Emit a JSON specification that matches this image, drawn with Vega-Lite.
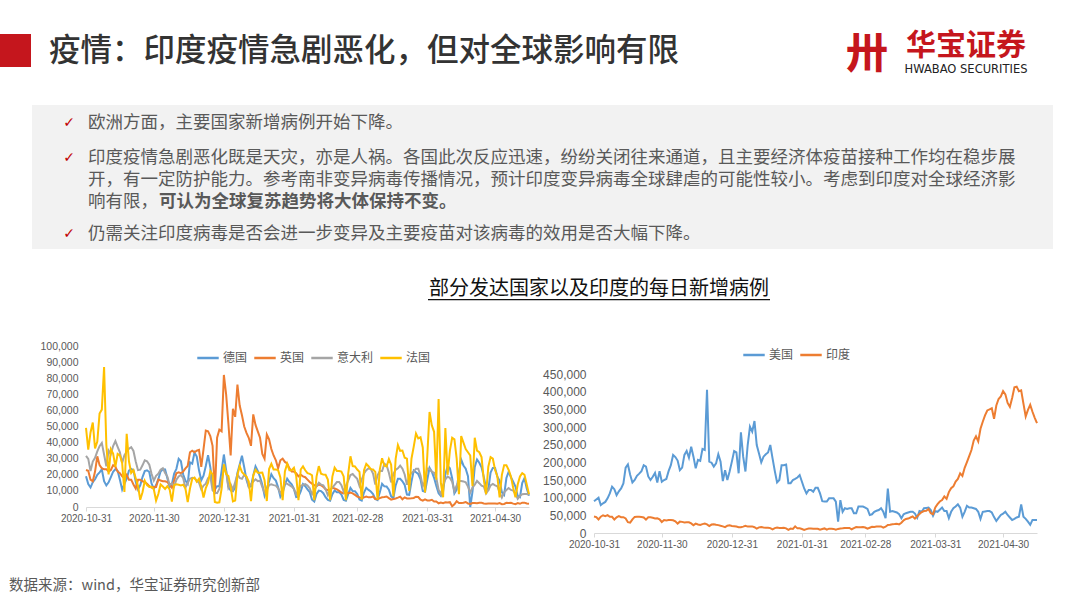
{
"$schema":"https://vega.github.io/schema/vega-lite/v6.json",
"width":1080,"height":608,"padding":0,"autosize":{"type":"none"},
"background":"#ffffff",
"config":{"view":{"stroke":null},"font":"Noto Sans CJK SC"},
"datasets":{
"eu":[
{"date":"2020-10-31","德国":19100,"英国":23000,"意大利":31800,"法国":49200},
{"date":"2020-11-01","德国":14200,"英国":22500,"意大利":29900,"法国":35600},
{"date":"2020-11-02","德国":12100,"英国":17000,"意大利":22300,"法国":46300},
{"date":"2020-11-03","德国":15400,"英国":16000,"意大利":28200,"法国":52500},
{"date":"2020-11-04","德国":17200,"英国":22000,"意大利":30600,"法国":36400},
{"date":"2020-11-05","德国":20000,"英国":31500,"意大利":34500,"法国":40600},
{"date":"2020-11-06","德国":21500,"英国":26000,"意大利":37800,"法国":58000},
{"date":"2020-11-07","德国":23400,"英国":24000,"意大利":39800,"法国":60500},
{"date":"2020-11-08","德国":16000,"英国":23500,"意大利":32600,"法国":86900},
{"date":"2020-11-09","德国":13400,"英国":23500,"意大利":25300,"法国":38600},
{"date":"2020-11-10","德国":15300,"英国":22000,"意大利":35100,"法国":20200},
{"date":"2020-11-11","德国":18500,"英国":23000,"意大利":32900,"法国":35900},
{"date":"2020-11-12","德国":21900,"英国":26000,"意大利":37900,"法国":33200},
{"date":"2020-11-13","德国":23500,"英国":25000,"意大利":40900,"法国":25000},
{"date":"2020-11-14","德国":22500,"英国":22000,"意大利":37300,"法国":33000},
{"date":"2020-11-15","德国":16900,"英国":21000,"意大利":33900,"法国":32100},
{"date":"2020-11-16","德国":10800,"英国":19000,"意大利":27400,"法国":27200},
{"date":"2020-11-17","德国":14400,"英国":18000,"意大利":32200,"法国":9400},
{"date":"2020-11-18","德国":17600,"英国":20000,"意大利":34300,"法国":45500},
{"date":"2020-11-19","德国":22600,"英国":17000,"意大利":36200,"法国":28400},
{"date":"2020-11-20","德国":23600,"英国":17000,"意大利":37200,"法国":21200},
{"date":"2020-11-21","德国":22900,"英国":14000,"意大利":34800,"法国":22900},
{"date":"2020-11-22","德国":15700,"英国":11500,"意大利":28300,"法国":17900},
{"date":"2020-11-23","德国":10900,"英国":17000,"意大利":22900,"法国":13200},
{"date":"2020-11-24","德国":13500,"英国":17000,"意大利":23200,"法国":4500},
{"date":"2020-11-25","德国":18600,"英国":16000,"意大利":25900,"法国":9200},
{"date":"2020-11-26","德国":22300,"英国":15500,"意大利":29000,"法国":16300},
{"date":"2020-11-27","德国":22800,"英国":14500,"意大利":28400,"法国":13600},
{"date":"2020-11-28","德国":21700,"英国":13000,"意大利":26300,"法国":12500},
{"date":"2020-11-29","德国":14600,"英国":12000,"意大利":20600,"法国":12600},
{"date":"2020-11-30","德国":11200,"英国":12500,"意大利":16400,"法国":11000},
{"date":"2020-12-01","德国":13600,"英国":12500,"意大利":19400,"法国":4000},
{"date":"2020-12-02","德国":17300,"英国":17000,"意大利":20700,"法国":8100},
{"date":"2020-12-03","德国":22000,"英国":16500,"意大利":23200,"法国":14000},
{"date":"2020-12-04","德国":23400,"英国":16000,"意大利":24100,"法国":12700},
{"date":"2020-12-05","德国":23300,"英国":16000,"意大利":21100,"法国":11200},
{"date":"2020-12-06","德国":17800,"英国":15500,"意大利":18900,"法国":12900},
{"date":"2020-12-07","德国":12300,"英国":14000,"意大利":13700,"法国":11000},
{"date":"2020-12-08","德国":14100,"英国":12000,"意大利":14800,"法国":3400},
{"date":"2020-12-09","德国":20800,"英国":16500,"意大利":12800,"法国":13700},
{"date":"2020-12-10","德国":23700,"英国":21000,"意大利":16900,"法国":14100},
{"date":"2020-12-11","德国":29900,"英国":21500,"意大利":19000,"法国":13800},
{"date":"2020-12-12","德国":28400,"英国":21000,"意大利":19900,"法国":13400},
{"date":"2020-12-13","德国":20200,"英国":22000,"意大利":17900,"法国":13900},
{"date":"2020-12-14","德国":16400,"英国":24000,"意大利":12000,"法国":11500},
{"date":"2020-12-15","德国":14400,"英国":25500,"意大利":14800,"法国":3100},
{"date":"2020-12-16","德国":27700,"英国":34000,"意大利":17600,"法国":11500},
{"date":"2020-12-17","德国":26900,"英国":35000,"意大利":18200,"法国":17600},
{"date":"2020-12-18","德国":33800,"英国":34000,"意大利":17900,"法国":18300},
{"date":"2020-12-19","德国":31300,"英国":35000,"意大利":16300,"法国":15700},
{"date":"2020-12-20","德国":22800,"英国":35500,"意大利":15100,"法国":17600},
{"date":"2020-12-21","德国":16600,"英国":25000,"意大利":10900,"法国":12800},
{"date":"2020-12-22","德国":19500,"英国":36000,"意大利":13300,"法国":5900},
{"date":"2020-12-23","德国":25500,"英国":47500,"意大利":14500,"法国":11800},
{"date":"2020-12-24","德国":32200,"英国":47000,"意大利":18000,"法国":15100},
{"date":"2020-12-25","德国":24700,"英国":44000,"意大利":19000,"法国":22200},
{"date":"2020-12-26","德国":14500,"英国":38000,"意大利":10400,"法国":20300},
{"date":"2020-12-27","德国":10900,"英国":8000,"意大利":8900,"法国":3100},
{"date":"2020-12-28","德国":12900,"英国":43000,"意大利":8600,"法国":2600},
{"date":"2020-12-29","德国":12900,"英国":48000,"意大利":11200,"法国":2900},
{"date":"2020-12-30","德国":22500,"英国":47000,"意大利":16200,"法国":11400},
{"date":"2020-12-31","德国":32600,"英国":82000,"意大利":23500,"法国":26500},
{"date":"2021-01-01","德国":22900,"英国":70000,"意大利":22200,"法国":20500},
{"date":"2021-01-02","德国":12700,"英国":52000,"意大利":11800,"法国":19300},
{"date":"2021-01-03","德国":10300,"英国":32000,"意大利":14200,"法国":12500},
{"date":"2021-01-04","德国":9800,"英国":61000,"意大利":10800,"法国":3500},
{"date":"2021-01-05","德国":12000,"英国":56000,"意大利":15400,"法国":4000},
{"date":"2021-01-06","德国":21200,"英国":76000,"意大利":20300,"法国":19800},
{"date":"2021-01-07","德国":26400,"英国":63000,"意大利":18000,"法国":25400},
{"date":"2021-01-08","德国":31800,"英国":57000,"意大利":17500,"法国":21700},
{"date":"2021-01-09","德国":24700,"英国":50000,"意大利":19900,"法国":20200},
{"date":"2021-01-10","德国":16900,"英国":46000,"意大利":18600,"法国":18900},
{"date":"2021-01-11","德国":12500,"英国":43000,"意大利":12500,"法国":15900},
{"date":"2021-01-12","德国":12800,"英国":38000,"意大利":14200,"法国":3600},
{"date":"2021-01-13","德国":19600,"英国":57500,"意大利":15800,"法国":19500},
{"date":"2021-01-14","德国":25200,"英国":51000,"意大利":17200,"法国":23100},
{"date":"2021-01-15","德国":22400,"英国":47000,"意大利":16100,"法国":21300},
{"date":"2021-01-16","德国":18700,"英国":43000,"意大利":16300,"法国":21300},
{"date":"2021-01-17","德国":13900,"英国":33000,"意大利":12500,"法国":21400},
{"date":"2021-01-18","德国":7100,"英国":30000,"意大利":8800,"法国":16600},
{"date":"2021-01-19","德国":11400,"英国":45000,"意大利":10500,"法国":3700},
{"date":"2021-01-20","德国":15900,"英国":42000,"意大利":13600,"法国":23600},
{"date":"2021-01-21","德国":20400,"英国":36000,"意大利":14100,"法国":26800},
{"date":"2021-01-22","德国":17900,"英国":32000,"意大利":13600,"法国":23300},
{"date":"2021-01-23","德国":16400,"英国":29000,"意大利":13300,"法国":23300},
{"date":"2021-01-24","德国":12300,"英国":24000,"意大利":11600,"法国":22900},
{"date":"2021-01-25","德国":6400,"英国":29000,"意大利":8600,"法国":18400},
{"date":"2021-01-26","德国":9000,"英国":30000,"意大利":10600,"法国":4200},
{"date":"2021-01-27","德国":13700,"英国":28000,"意大利":15200,"法国":22100},
{"date":"2021-01-28","德国":17600,"英国":27000,"意大利":14400,"法国":26900},
{"date":"2021-01-29","德国":15500,"英国":24000,"意大利":13600,"法国":22900},
{"date":"2021-01-30","德国":14100,"英国":22000,"意大利":12700,"法国":22900},
{"date":"2021-01-31","德国":11200,"英国":22000,"意大利":11300,"法国":24400},
{"date":"2021-02-01","德国":6100,"英国":21000,"意大利":7900,"法国":19200},
{"date":"2021-02-02","德国":6400,"英国":19000,"意大利":10600,"法国":4300},
{"date":"2021-02-03","德国":9700,"英国":20000,"意大利":13200,"法国":23300},
{"date":"2021-02-04","德国":14200,"英国":19000,"意大利":13700,"法国":25200},
{"date":"2021-02-05","德国":12900,"英国":18500,"意大利":14200,"法国":22800},
{"date":"2021-02-06","德国":11000,"英国":17000,"意大利":13400,"法国":21000},
{"date":"2021-02-07","德国":9200,"英国":15500,"意大利":11600,"法国":20600},
{"date":"2021-02-08","德国":4500,"英国":14500,"意大利":7900,"法国":19700},
{"date":"2021-02-09","德国":3400,"英国":13500,"意大利":10600,"法国":4300},
{"date":"2021-02-10","德国":8100,"英国":13000,"意大利":12900,"法国":18900},
{"date":"2021-02-11","德国":10200,"英国":14000,"意大利":15100,"法国":25400},
{"date":"2021-02-12","德国":9900,"英国":13500,"意大利":13900,"法国":20700},
{"date":"2021-02-13","德国":8600,"英国":12500,"意大利":13500,"法国":20100},
{"date":"2021-02-14","德国":6100,"英国":11000,"意大利":11100,"法国":20000},
{"date":"2021-02-15","德国":4400,"英国":10500,"意大利":7400,"法国":17000},
{"date":"2021-02-16","德国":3900,"英国":10500,"意大利":10400,"法国":4200},
{"date":"2021-02-17","德国":7900,"英国":12000,"意大利":12100,"法国":18900},
{"date":"2021-02-18","德国":10200,"英国":11500,"意大利":13800,"法国":24400},
{"date":"2021-02-19","德国":9100,"英国":11000,"意大利":15500,"法国":22400},
{"date":"2021-02-20","德国":9200,"英国":10000,"意大利":15500,"法国":22400},
{"date":"2021-02-21","德国":7700,"英国":9000,"意大利":13500,"法国":22000},
{"date":"2021-02-22","德国":4400,"英国":8500,"意大利":9600,"法国":19000},
{"date":"2021-02-23","德国":3900,"英国":9500,"意大利":13300,"法国":4200},
{"date":"2021-02-24","德国":8000,"英国":8500,"意大利":16400,"法国":20600},
{"date":"2021-02-25","德国":11900,"英国":9000,"意大利":19900,"法国":31500},
{"date":"2021-02-26","德国":9900,"英国":8500,"意大利":20500,"法国":25400},
{"date":"2021-02-27","德国":9800,"英国":7500,"意大利":18900,"法国":25200},
{"date":"2021-02-28","德国":8000,"英国":6500,"意大利":17500,"法国":23300},
{"date":"2021-03-01","德国":4700,"英国":6000,"意大利":13100,"法国":21800},
{"date":"2021-03-02","德国":4000,"英国":5500,"意大利":17100,"法国":4500},
{"date":"2021-03-03","德国":9000,"英国":6000,"意大利":20900,"法国":22900},
{"date":"2021-03-04","德国":11900,"英国":6500,"意大利":22900,"法国":26800},
{"date":"2021-03-05","德国":10600,"英国":6000,"意大利":24000,"法国":25300},
{"date":"2021-03-06","德国":9600,"英国":6000,"意大利":23600,"法国":23500},
{"date":"2021-03-07","德国":8100,"英国":6500,"意大利":20800,"法国":23300},
{"date":"2021-03-08","德国":5000,"英国":5000,"意大利":13900,"法国":21800},
{"date":"2021-03-09","德国":4300,"英国":4800,"意大利":19700,"法国":4600},
{"date":"2021-03-10","德国":9100,"英国":5500,"意大利":22400,"法国":23400},
{"date":"2021-03-11","德国":14400,"英国":6000,"意大利":22400,"法国":30300},
{"date":"2021-03-12","德国":12800,"英国":6200,"意大利":26800,"法国":25600},
{"date":"2021-03-13","德国":12700,"英国":6500,"意大利":26000,"法国":25200},
{"date":"2021-03-14","德国":10800,"英国":5500,"意大利":21300,"法国":29800},
{"date":"2021-03-15","德国":6600,"英国":4600,"意大利":15300,"法国":26300},
{"date":"2021-03-16","德国":5500,"英国":5000,"意大利":20400,"法国":6500},
{"date":"2021-03-17","德国":13400,"英国":5300,"意大利":23100,"法国":29900},
{"date":"2021-03-18","德国":17500,"英国":5800,"意大利":24000,"法国":38500},
{"date":"2021-03-19","德国":17500,"英国":6400,"意大利":25700,"法国":34900},
{"date":"2021-03-20","德国":16000,"英国":4800,"意大利":23800,"法国":35100},
{"date":"2021-03-21","德国":13700,"英国":6000,"意大利":20200,"法国":30600},
{"date":"2021-03-22","德国":7700,"英国":5300,"意大利":13800,"法国":30000},
{"date":"2021-03-23","德国":7500,"英国":5300,"意大利":18800,"法国":10000},
{"date":"2021-03-24","德国":15800,"英国":5400,"意大利":21300,"法国":30000},
{"date":"2021-03-25","德国":22700,"英国":5600,"意大利":22000,"法国":37500},
{"date":"2021-03-26","德国":21600,"英国":6400,"意大利":23800,"法国":45600},
{"date":"2021-03-27","德国":20500,"英国":6200,"意大利":23800,"法国":42600},
{"date":"2021-03-28","德国":17200,"英国":4500,"意大利":19600,"法国":43300},
{"date":"2021-03-29","德国":9900,"英国":3900,"意大利":12900,"法国":37000},
{"date":"2021-03-30","德国":9500,"英国":4700,"意大利":16000,"法国":9100},
{"date":"2021-03-31","德国":17100,"英国":4100,"意大利":23900,"法国":31800},
{"date":"2021-04-01","德国":24300,"英国":4100,"意大利":23600,"法国":59000},
{"date":"2021-04-02","德国":21900,"英国":4500,"意大利":21900,"法国":50700},
{"date":"2021-04-03","德国":18100,"英国":3400,"意大利":21300,"法国":46700},
{"date":"2021-04-04","德国":13000,"英国":3400,"意大利":18000,"法国":17000},
{"date":"2021-04-05","德国":8500,"英国":2300,"意大利":10700,"法国":67000},
{"date":"2021-04-06","德国":6900,"英国":2800,"意大利":7800,"法国":15000},
{"date":"2021-04-07","德国":9700,"英国":2400,"意大利":13700,"法国":6000},
{"date":"2021-04-08","德国":20400,"英国":2900,"意大利":17200,"法国":49000},
{"date":"2021-04-09","德国":25500,"英国":2800,"意大利":18900,"法国":20000},
{"date":"2021-04-10","德国":24100,"英国":3000,"意大利":18000,"法国":35000},
{"date":"2021-04-11","德国":17900,"英国":500,"意大利":15700,"法国":43000},
{"date":"2021-04-12","德国":8500,"英国":1700,"意大利":9800,"法国":42000},
{"date":"2021-04-13","德国":10800,"英国":3600,"意大利":13400,"法国":30000},
{"date":"2021-04-14","德国":21700,"英国":2500,"意大利":16200,"法国":8000},
{"date":"2021-04-15","德国":29400,"英国":2500,"意大利":16200,"法国":44000},
{"date":"2021-04-16","德国":25800,"英国":2600,"意大利":15900,"法国":40000},
{"date":"2021-04-17","德国":23800,"英国":3100,"意大利":15400,"法国":36000},
{"date":"2021-04-18","德国":19200,"英国":2200,"意大利":12700,"法国":34000},
{"date":"2021-04-19","德国":0,"英国":1900,"意大利":8900,"法国":32000},
{"date":"2021-04-20","德国":9600,"英国":2500,"意大利":12100,"法国":13000},
{"date":"2021-04-21","德国":24900,"英国":2500,"意大利":13800,"法国":43000},
{"date":"2021-04-22","德国":29500,"英国":2400,"意大利":16200,"法国":35000},
{"date":"2021-04-23","德国":27500,"英国":2700,"意大利":14800,"法国":34000},
{"date":"2021-04-24","德国":24700,"英国":2600,"意大利":13200,"法国":31000},
{"date":"2021-04-25","德国":18700,"英国":2200,"意大利":12700,"法国":17000},
{"date":"2021-04-26","德国":11900,"英国":2000,"意大利":8400,"法国":8000},
{"date":"2021-04-27","德国":10900,"英国":2100,"意大利":10400,"法国":25000},
{"date":"2021-04-28","德国":21400,"英国":2100,"意大利":13400,"法国":31000},
{"date":"2021-04-29","德国":24300,"英国":2200,"意大利":14300,"法国":30000},
{"date":"2021-04-30","德国":24300,"英国":2200,"意大利":13400,"法国":23000},
{"date":"2021-05-01","德国":18800,"英国":2000,"意大利":12900,"法国":19000},
{"date":"2021-05-02","德国":16300,"英国":2400,"意大利":9100,"法国":6000},
{"date":"2021-05-03","德国":9200,"英国":1700,"意大利":5900,"法国":20000},
{"date":"2021-05-04","德国":7500,"英国":1900,"意大利":9100,"法国":26000},
{"date":"2021-05-05","德国":18000,"英国":2600,"意大利":10500,"法国":26000},
{"date":"2021-05-06","德国":21900,"英国":2500,"意大利":11800,"法国":23000},
{"date":"2021-05-07","德国":18500,"英国":2600,"意大利":10600,"法国":19000},
{"date":"2021-05-08","德国":15700,"英国":2100,"意大利":10200,"法国":12000},
{"date":"2021-05-09","德国":12700,"英国":1800,"意大利":8300,"法国":6000},
{"date":"2021-05-10","德国":6900,"英国":2400,"意大利":5100,"法国":14000},
{"date":"2021-05-11","德国":6100,"英国":2000,"意大利":6900,"法国":19000},
{"date":"2021-05-12","德国":14900,"英国":2700,"意大利":7900,"法国":21000},
{"date":"2021-05-13","德国":17900,"英国":2700,"意大利":8100,"法国":20000},
{"date":"2021-05-14","德国":11500,"英国":2200,"意大利":8100,"法国":14000},
{"date":"2021-05-15","德国":7000,"英国":2000,"意大利":7600,"法国":8000}
],
"usin":[
{"date":"2020-10-31","美国":90000,"印度":46900},
{"date":"2020-11-01","美国":95000,"印度":45200},
{"date":"2020-11-02","美国":100000,"印度":38300},
{"date":"2020-11-03","美国":79000,"印度":46300},
{"date":"2020-11-04","美国":84000,"印度":50200},
{"date":"2020-11-05","美国":88000,"印度":47600},
{"date":"2020-11-06","美国":98000,"印度":50400},
{"date":"2020-11-07","美国":112000,"印度":45700},
{"date":"2020-11-08","美国":131000,"印度":45900},
{"date":"2020-11-09","美国":124000,"印度":38100},
{"date":"2020-11-10","美国":107000,"印度":44300},
{"date":"2020-11-11","美国":118000,"印度":47900},
{"date":"2020-11-12","美国":126000,"印度":44900},
{"date":"2020-11-13","美国":140000,"印度":44700},
{"date":"2020-11-14","美国":185000,"印度":41100},
{"date":"2020-11-15","美国":194000,"印度":30500},
{"date":"2020-11-16","美国":165000,"印度":29200},
{"date":"2020-11-17","美国":143000,"印度":38600},
{"date":"2020-11-18","美国":150000,"印度":45600},
{"date":"2020-11-19","美国":162000,"印度":45900},
{"date":"2020-11-20","美国":168000,"印度":46200},
{"date":"2020-11-21","美国":175000,"印度":45200},
{"date":"2020-11-22","美国":192000,"印度":44100},
{"date":"2020-11-23","美国":188000,"印度":37900},
{"date":"2020-11-24","美国":160000,"印度":44400},
{"date":"2020-11-25","美国":150000,"印度":44500},
{"date":"2020-11-26","美国":159000,"印度":43100},
{"date":"2020-11-27","美国":170000,"印度":41300},
{"date":"2020-11-28","美国":143000,"印度":41800},
{"date":"2020-11-29","美国":175000,"印度":38800},
{"date":"2020-11-30","美国":145000,"印度":31100},
{"date":"2020-12-01","美国":150000,"印度":36600},
{"date":"2020-12-02","美国":153000,"印度":35600},
{"date":"2020-12-03","美国":175000,"印度":36600},
{"date":"2020-12-04","美国":192000,"印度":36700},
{"date":"2020-12-05","美国":221000,"印度":36000},
{"date":"2020-12-06","美国":215000,"印度":32900},
{"date":"2020-12-07","美国":205000,"印度":26600},
{"date":"2020-12-08","美国":178000,"印度":32100},
{"date":"2020-12-09","美国":185000,"印度":31500},
{"date":"2020-12-10","美国":221000,"印度":30000},
{"date":"2020-12-11","美国":232000,"印度":30300},
{"date":"2020-12-12","美国":213000,"印度":30300},
{"date":"2020-12-13","美国":244000,"印度":27100},
{"date":"2020-12-14","美国":216000,"印度":22100},
{"date":"2020-12-15","美国":183000,"印度":26400},
{"date":"2020-12-16","美国":207000,"印度":24000},
{"date":"2020-12-17","美国":204000,"印度":22900},
{"date":"2020-12-18","美国":238000,"印度":25200},
{"date":"2020-12-19","美国":235000,"印度":26600},
{"date":"2020-12-20","美国":405000,"印度":24300},
{"date":"2020-12-21","美国":202000,"印度":19600},
{"date":"2020-12-22","美国":199000,"印度":23900},
{"date":"2020-12-23","美国":188000,"印度":24700},
{"date":"2020-12-24","美国":197000,"印度":23100},
{"date":"2020-12-25","美国":223000,"印度":22300},
{"date":"2020-12-26","美国":202000,"印度":20300},
{"date":"2020-12-27","美国":147000,"印度":18700},
{"date":"2020-12-28","美国":178000,"印度":16400},
{"date":"2020-12-29","美国":150000,"印度":20500},
{"date":"2020-12-30","美国":174000,"印度":21800},
{"date":"2020-12-31","美国":202000,"印度":20000},
{"date":"2021-01-01","美国":232000,"印度":19100},
{"date":"2021-01-02","美国":228000,"印度":18200},
{"date":"2021-01-03","美国":169000,"印度":16500},
{"date":"2021-01-04","美国":285000,"印度":16400},
{"date":"2021-01-05","美国":216000,"印度":18100},
{"date":"2021-01-06","美国":174000,"印度":20300},
{"date":"2021-01-07","美国":249000,"印度":18100},
{"date":"2021-01-08","美国":301000,"印度":18600},
{"date":"2021-01-09","美国":287000,"印度":18600},
{"date":"2021-01-10","美国":317000,"印度":16300},
{"date":"2021-01-11","美国":249000,"印度":12600},
{"date":"2021-01-12","美国":225000,"印度":15900},
{"date":"2021-01-13","美国":200000,"印度":16900},
{"date":"2021-01-14","美国":216000,"印度":15600},
{"date":"2021-01-15","美国":223000,"印度":15200},
{"date":"2021-01-16","美国":228000,"印度":15100},
{"date":"2021-01-17","美国":249000,"印度":13800},
{"date":"2021-01-18","美国":211000,"印度":10100},
{"date":"2021-01-19","美国":175000,"印度":13800},
{"date":"2021-01-20","美国":143000,"印度":15200},
{"date":"2021-01-21","美国":150000,"印度":14500},
{"date":"2021-01-22","美国":192000,"印度":14300},
{"date":"2021-01-23","美国":192000,"印度":14800},
{"date":"2021-01-24","美国":194000,"印度":13200},
{"date":"2021-01-25","美国":141000,"印度":9100},
{"date":"2021-01-26","美国":141000,"印度":12700},
{"date":"2021-01-27","美国":150000,"印度":11700},
{"date":"2021-01-28","美国":153000,"印度":18900},
{"date":"2021-01-29","美国":157000,"印度":13100},
{"date":"2021-01-30","美国":164000,"印度":13100},
{"date":"2021-01-31","美国":145000,"印度":11400},
{"date":"2021-02-01","美国":126000,"印度":8600},
{"date":"2021-02-02","美国":112000,"印度":11000},
{"date":"2021-02-03","美国":122000,"印度":12900},
{"date":"2021-02-04","美国":122000,"印度":12400},
{"date":"2021-02-05","美国":117000,"印度":11700},
{"date":"2021-02-06","美国":128000,"印度":12100},
{"date":"2021-02-07","美国":128000,"印度":11800},
{"date":"2021-02-08","美国":112000,"印度":9100},
{"date":"2021-02-09","美国":90000,"印度":11100},
{"date":"2021-02-10","美国":89000,"印度":12900},
{"date":"2021-02-11","美国":89000,"印度":9300},
{"date":"2021-02-12","美国":98000,"印度":12200},
{"date":"2021-02-13","美国":98000,"印度":12200},
{"date":"2021-02-14","美国":98000,"印度":11600},
{"date":"2021-02-15","美国":89000,"印度":9100},
{"date":"2021-02-16","美国":32000,"印度":11600},
{"date":"2021-02-17","美国":93000,"印度":12900},
{"date":"2021-02-18","美国":60000,"印度":13200},
{"date":"2021-02-19","美国":70000,"印度":13900},
{"date":"2021-02-20","美国":68000,"印度":14300},
{"date":"2021-02-21","美国":70000,"印度":14200},
{"date":"2021-02-22","美国":70000,"印度":10600},
{"date":"2021-02-23","美国":56000,"印度":13700},
{"date":"2021-02-24","美国":56000,"印度":16700},
{"date":"2021-02-25","美国":75000,"印度":16600},
{"date":"2021-02-26","美国":75000,"印度":16500},
{"date":"2021-02-27","美国":75000,"印度":16800},
{"date":"2021-02-28","美国":72000,"印度":15500},
{"date":"2021-03-01","美国":68000,"印度":12300},
{"date":"2021-03-02","美国":51000,"印度":14900},
{"date":"2021-03-03","美国":53000,"印度":17400},
{"date":"2021-03-04","美国":60000,"印度":16800},
{"date":"2021-03-05","美国":63000,"印度":18300},
{"date":"2021-03-06","美国":65000,"印度":18700},
{"date":"2021-03-07","美国":70000,"印度":18600},
{"date":"2021-03-08","美国":60000,"印度":15400},
{"date":"2021-03-09","美国":42000,"印度":17900},
{"date":"2021-03-10","美国":126000,"印度":22900},
{"date":"2021-03-11","美国":60000,"印度":23300},
{"date":"2021-03-12","美国":62000,"印度":24900},
{"date":"2021-03-13","美国":60000,"印度":25300},
{"date":"2021-03-14","美国":58000,"印度":26300},
{"date":"2021-03-15","美国":53000,"印度":24500},
{"date":"2021-03-16","美国":42000,"印度":28900},
{"date":"2021-03-17","美国":53000,"印度":35900},
{"date":"2021-03-18","美国":56000,"印度":39700},
{"date":"2021-03-19","美国":58000,"印度":40900},
{"date":"2021-03-20","美国":60000,"印度":43800},
{"date":"2021-03-21","美国":60000,"印度":46900},
{"date":"2021-03-22","美国":55000,"印度":40700},
{"date":"2021-03-23","美国":43000,"印度":47300},
{"date":"2021-03-24","美国":62000,"印度":53500},
{"date":"2021-03-25","美国":60000,"印度":59100},
{"date":"2021-03-26","美国":70000,"印度":62300},
{"date":"2021-03-27","美国":71000,"印度":62700},
{"date":"2021-03-28","美国":72000,"印度":68000},
{"date":"2021-03-29","美国":65000,"印度":56200},
{"date":"2021-03-30","美国":49000,"印度":53500},
{"date":"2021-03-31","美国":62000,"印度":72300},
{"date":"2021-04-01","美国":60000,"印度":81500},
{"date":"2021-04-02","美国":66000,"印度":89100},
{"date":"2021-04-03","美国":72000,"印度":93200},
{"date":"2021-04-04","美国":62000,"印度":103600},
{"date":"2021-04-05","美国":62000,"印度":96600},
{"date":"2021-04-06","美国":42000,"印度":115700},
{"date":"2021-04-07","美国":60000,"印度":126800},
{"date":"2021-04-08","美国":70000,"印度":131900},
{"date":"2021-04-09","美国":75000,"印度":145400},
{"date":"2021-04-10","美国":81000,"印度":152900},
{"date":"2021-04-11","美国":72000,"印度":168900},
{"date":"2021-04-12","美国":46000,"印度":161700},
{"date":"2021-04-13","美国":60000,"印度":184400},
{"date":"2021-04-14","美国":77000,"印度":200700},
{"date":"2021-04-15","美国":72000,"印度":217400},
{"date":"2021-04-16","美国":72000,"印度":234700},
{"date":"2021-04-17","美国":70000,"印度":261500},
{"date":"2021-04-18","美国":68000,"印度":273800},
{"date":"2021-04-19","美国":60000,"印度":259200},
{"date":"2021-04-20","美国":40000,"印度":295000},
{"date":"2021-04-21","美国":60000,"印度":314800},
{"date":"2021-04-22","美国":61000,"印度":332700},
{"date":"2021-04-23","美国":62000,"印度":346800},
{"date":"2021-04-24","美国":62000,"印度":349700},
{"date":"2021-04-25","美国":58000,"印度":352900},
{"date":"2021-04-26","美国":45000,"印度":323100},
{"date":"2021-04-27","美国":34000,"印度":360900},
{"date":"2021-04-28","美国":43000,"印度":379300},
{"date":"2021-04-29","美国":51000,"印度":386500},
{"date":"2021-04-30","美国":55000,"印度":401900},
{"date":"2021-05-01","美国":60000,"印度":392500},
{"date":"2021-05-02","美国":51000,"印度":368100},
{"date":"2021-05-03","美国":44000,"印度":357200},
{"date":"2021-05-04","美国":37000,"印度":382300},
{"date":"2021-05-05","美国":40000,"印度":412300},
{"date":"2021-05-06","美国":44000,"印度":414200},
{"date":"2021-05-07","美国":46000,"印度":401100},
{"date":"2021-05-08","美国":81000,"印度":403700},
{"date":"2021-05-09","美国":46000,"印度":366200},
{"date":"2021-05-10","美国":40000,"印度":329900},
{"date":"2021-05-11","美国":32000,"印度":348400},
{"date":"2021-05-12","美国":23000,"印度":362700},
{"date":"2021-05-13","美国":37000,"印度":343100},
{"date":"2021-05-14","美国":37000,"印度":326100},
{"date":"2021-05-15","美国":37000,"印度":311200}
]
},
"layer":[
{"data":{"values":[{"k":"bar"}]},"mark":{"type":"rect","color":"#c5161d"},
 "encoding":{"x":{"field":"k","type":"nominal","scale":{"type":"band","range":[0,31],"padding":0},"axis":null},
             "y":{"field":"k","type":"nominal","scale":{"type":"band","range":[34,67],"padding":0},"axis":null}}},
{"data":{"values":[{"t":"疫情：印度疫情急剧恶化，但对全球影响有限"}]},
 "mark":{"type":"text","align":"left","baseline":"middle","fontSize":31.5,"fontWeight":500,"color":"#333333","font":"Noto Sans CJK SC"},
 "encoding":{"x":{"field":"t","type":"nominal","scale":{"type":"point","range":[49,49]},"axis":null},
             "y":{"field":"t","type":"nominal","scale":{"type":"point","range":[52,52]},"axis":null},
             "text":{"field":"t"}}},
{"data":{"values":[{"t":"卅"}]},
 "mark":{"type":"text","align":"center","baseline":"middle","fontSize":42,"fontWeight":"bold","color":"#c5161d","font":"Noto Sans CJK SC"},
 "encoding":{"x":{"field":"t","type":"nominal","scale":{"type":"point","range":[867,867]},"axis":null},
             "y":{"field":"t","type":"nominal","scale":{"type":"point","range":[55,55]},"axis":null},
             "text":{"field":"t"}}},
{"data":{"values":[{"t":"华宝证券"}]},
 "mark":{"type":"text","align":"center","baseline":"middle","fontSize":30,"fontWeight":"bold","color":"#c5161d","font":"Noto Sans CJK SC"},
 "encoding":{"x":{"field":"t","type":"nominal","scale":{"type":"point","range":[966,966]},"axis":null},
             "y":{"field":"t","type":"nominal","scale":{"type":"point","range":[46,46]},"axis":null},
             "text":{"field":"t"}}},
{"data":{"values":[{"t":"HWABAO SECURITIES"}]},
 "mark":{"type":"text","align":"center","baseline":"middle","fontSize":11.5,"color":"#222222","font":"DejaVu Sans"},
 "encoding":{"x":{"field":"t","type":"nominal","scale":{"type":"point","range":[966,966]},"axis":null},
             "y":{"field":"t","type":"nominal","scale":{"type":"point","range":[70,70]},"axis":null},
             "text":{"field":"t"}}},
{"data":{"values":[{"k":"box"}]},"mark":{"type":"rect","color":"#f2f2f2"},
 "encoding":{"x":{"field":"k","type":"nominal","scale":{"type":"band","range":[32,1053],"padding":0},"axis":null},
             "y":{"field":"k","type":"nominal","scale":{"type":"band","range":[105,249],"padding":0},"axis":null}}},
{"data":{"values":[{"t":"✓"}]},
 "mark":{"type":"text","align":"center","baseline":"middle","fontSize":14,"color":"#c00000","font":"DejaVu Sans"},
 "encoding":{"x":{"field":"t","type":"nominal","scale":{"type":"point","range":[69,69]},"axis":null},
             "y":{"field":"t","type":"nominal","scale":{"type":"point","range":[123,123]},"axis":null},
             "text":{"field":"t"}}},
{"data":{"values":[{"t":"✓"}]},
 "mark":{"type":"text","align":"center","baseline":"middle","fontSize":14,"color":"#c00000","font":"DejaVu Sans"},
 "encoding":{"x":{"field":"t","type":"nominal","scale":{"type":"point","range":[69,69]},"axis":null},
             "y":{"field":"t","type":"nominal","scale":{"type":"point","range":[158,158]},"axis":null},
             "text":{"field":"t"}}},
{"data":{"values":[{"t":"✓"}]},
 "mark":{"type":"text","align":"center","baseline":"middle","fontSize":14,"color":"#c00000","font":"DejaVu Sans"},
 "encoding":{"x":{"field":"t","type":"nominal","scale":{"type":"point","range":[69,69]},"axis":null},
             "y":{"field":"t","type":"nominal","scale":{"type":"point","range":[234,234]},"axis":null},
             "text":{"field":"t"}}},
{"data":{"values":[{"t":"欧洲方面，主要国家新增病例开始下降。"}]},
 "mark":{"type":"text","align":"left","baseline":"middle","fontSize":17.5,"color":"#595959","font":"Noto Sans CJK SC"},
 "encoding":{"x":{"field":"t","type":"nominal","scale":{"type":"point","range":[88,88]},"axis":null},
             "y":{"field":"t","type":"nominal","scale":{"type":"point","range":[123,123]},"axis":null},
             "text":{"field":"t"}}},
{"data":{"values":[
  {"line":1,"t":"印度疫情急剧恶化既是天灾，亦是人祸。各国此次反应迅速，纷纷关闭往来通道，且主要经济体疫苗接种工作均在稳步展"},
  {"line":2,"t":"开，有一定防护能力。参考南非变异病毒传播情况，预计印度变异病毒全球肆虐的可能性较小。考虑到印度对全球经济影"},
  {"line":3,"t":"响有限，"}]},
 "mark":{"type":"text","align":"left","baseline":"middle","fontSize":17.5,"color":"#595959","font":"Noto Sans CJK SC"},
 "encoding":{"x":{"field":"k","type":"nominal","scale":{"type":"point","range":[88,88]},"axis":null},
             "y":{"field":"line","type":"ordinal","scale":{"type":"point","domain":[1,2,3],"range":[158,202],"padding":0},"axis":null},
             "text":{"field":"t"}}},
{"data":{"values":[{"t":"可认为全球复苏趋势将大体保持不变。"}]},
 "mark":{"type":"text","align":"left","baseline":"middle","fontSize":17.5,"fontWeight":"bold","color":"#595959","font":"Noto Sans CJK SC"},
 "encoding":{"x":{"field":"t","type":"nominal","scale":{"type":"point","range":[159,159]},"axis":null},
             "y":{"field":"t","type":"nominal","scale":{"type":"point","range":[202,202]},"axis":null},
             "text":{"field":"t"}}},
{"data":{"values":[{"t":"仍需关注印度病毒是否会进一步变异及主要疫苗对该病毒的效用是否大幅下降。"}]},
 "mark":{"type":"text","align":"left","baseline":"middle","fontSize":17.5,"color":"#595959","font":"Noto Sans CJK SC"},
 "encoding":{"x":{"field":"t","type":"nominal","scale":{"type":"point","range":[88,88]},"axis":null},
             "y":{"field":"t","type":"nominal","scale":{"type":"point","range":[234,234]},"axis":null},
             "text":{"field":"t"}}},
{"data":{"values":[{"t":"部分发达国家以及印度的每日新增病例"}]},
 "mark":{"type":"text","align":"center","baseline":"middle","fontSize":20,"color":"#111111","font":"Noto Sans CJK SC"},
 "encoding":{"x":{"field":"t","type":"nominal","scale":{"type":"point","range":[599,599]},"axis":null},
             "y":{"field":"t","type":"nominal","scale":{"type":"point","range":[289,289]},"axis":null},
             "text":{"field":"t"}}},
{"data":{"values":[{"k":"underline"}]},"mark":{"type":"rect","color":"#111111"},
 "encoding":{"x":{"field":"k","type":"nominal","scale":{"type":"band","range":[428,770],"padding":0},"axis":null},
             "y":{"field":"k","type":"nominal","scale":{"type":"band","range":[299,300.2],"padding":0},"axis":null}}},
{"data":{"values":[{"t":"数据来源：wind，华宝证券研究创新部"}]},
 "mark":{"type":"text","align":"left","baseline":"middle","fontSize":14.5,"color":"#595959","font":"Noto Sans CJK SC"},
 "encoding":{"x":{"field":"t","type":"nominal","scale":{"type":"point","range":[9,9]},"axis":null},
             "y":{"field":"t","type":"nominal","scale":{"type":"point","range":[586,586]},"axis":null},
             "text":{"field":"t"}}},
{"data":{"name":"eu"},
 "transform":[{"fold":["德国","英国","意大利","法国"],"as":["country","cases"]}],
 "mark":{"type":"line","strokeWidth":2},
 "encoding":{
  "x":{"field":"date","type":"temporal",
       "scale":{"type":"utc","domain":[{"year":2020,"month":10,"date":31,"utc":true},{"year":2021,"month":5,"date":15,"utc":true}],"range":[86,529]},
       "axis":{"orient":"bottom","offset":-101,"title":null,"grid":false,
               "values":[{"year":2020,"month":10,"date":31,"utc":true},{"year":2020,"month":11,"date":30,"utc":true},{"year":2020,"month":12,"date":31,"utc":true},{"year":2021,"month":1,"date":31,"utc":true},{"year":2021,"month":2,"date":28,"utc":true},{"year":2021,"month":3,"date":31,"utc":true},{"year":2021,"month":4,"date":30,"utc":true}],
               "labelExpr":"utcFormat(datum.value, '%Y-%m-%d')","labelFont":"Liberation Sans","labelFontSize":10,"labelColor":"#595959",
               "domainColor":"#d9d9d9","tickColor":"#d9d9d9","tickSize":4,"labelPadding":2,"labelOverlap":false,"labelFlush":false}},
  "y":{"field":"cases","type":"quantitative",
       "scale":{"domain":[0,100000],"range":[507,346],"nice":false},
       "axis":{"orient":"left","offset":-86,"title":null,"grid":false,"domain":false,"ticks":false,
               "values":[0,10000,20000,30000,40000,50000,60000,70000,80000,90000,100000],"format":",.0f",
               "labelFont":"Liberation Sans","labelFontSize":10.5,"labelColor":"#595959","labelPadding":8}},
  "color":{"field":"country","type":"nominal",
       "scale":{"domain":["德国","英国","意大利","法国"],"range":["#5b9bd5","#ed7d31","#a5a5a5","#ffc000"]},
       "legend":{"orient":"none","legendX":196,"legendY":346,"direction":"horizontal","title":null,
                 "labelFont":"Noto Sans CJK SC","labelFontSize":12,"labelColor":"#595959","symbolType":"stroke",
                 "symbolSize":460,"symbolStrokeWidth":2.5,"labelOffset":3,"columnPadding":1,"padding":0}}
 }},
{"data":{"name":"usin"},
 "transform":[{"fold":["美国","印度"],"as":["country","cases"]}],
 "mark":{"type":"line","strokeWidth":2},
 "encoding":{
  "x":{"field":"date","type":"temporal",
       "scale":{"type":"utc","domain":[{"year":2020,"month":10,"date":31,"utc":true},{"year":2021,"month":5,"date":15,"utc":true}],"range":[594,1037]},
       "axis":{"orient":"bottom","offset":-75,"title":null,"grid":false,
               "values":[{"year":2020,"month":10,"date":31,"utc":true},{"year":2020,"month":11,"date":30,"utc":true},{"year":2020,"month":12,"date":31,"utc":true},{"year":2021,"month":1,"date":31,"utc":true},{"year":2021,"month":2,"date":28,"utc":true},{"year":2021,"month":3,"date":31,"utc":true},{"year":2021,"month":4,"date":30,"utc":true}],
               "labelExpr":"utcFormat(datum.value, '%Y-%m-%d')","labelFont":"Liberation Sans","labelFontSize":10,"labelColor":"#595959",
               "domainColor":"#d9d9d9","tickColor":"#d9d9d9","tickSize":4,"labelPadding":2,"labelOverlap":false,"labelFlush":false}},
  "y":{"field":"cases","type":"quantitative",
       "scale":{"domain":[0,450000],"range":[533,374],"nice":false},
       "axis":{"orient":"left","offset":-594,"title":null,"grid":false,"domain":false,"ticks":false,
               "values":[0,50000,100000,150000,200000,250000,300000,350000,400000,450000],"format":",.0f",
               "labelFont":"Liberation Sans","labelFontSize":12,"labelColor":"#595959","labelPadding":8}},
  "color":{"field":"country","type":"nominal",
       "scale":{"domain":["美国","印度"],"range":["#5b9bd5","#ed7d31"]},
       "legend":{"orient":"none","legendX":742,"legendY":343,"direction":"horizontal","title":null,
                 "labelFont":"Noto Sans CJK SC","labelFontSize":12,"labelColor":"#595959","symbolType":"stroke",
                 "symbolSize":460,"symbolStrokeWidth":2.5,"labelOffset":3,"columnPadding":1,"padding":0}}
 }}
],
"resolve":{"scale":{"x":"independent","y":"independent","color":"independent"},"axis":{"x":"independent","y":"independent"},"legend":{"color":"independent"}}
}
